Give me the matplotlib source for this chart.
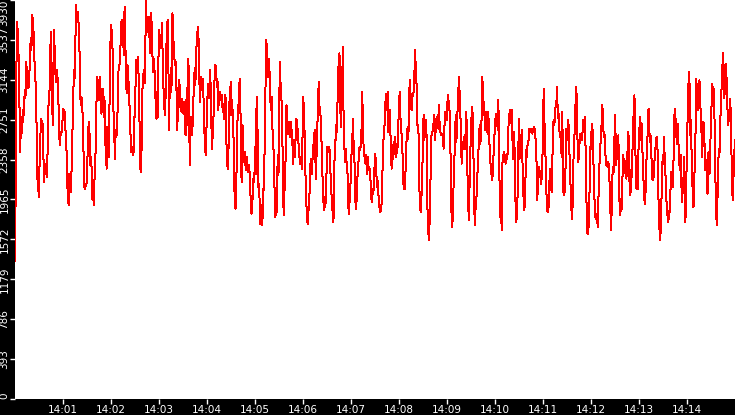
import matplotlib
matplotlib.use('Agg')
import matplotlib.pyplot as plt
import numpy as np

# readings, one list per 2.5 minute stretch
seg1 = [1360, 2153, 3321, 3716, 3519, 3338, 2877, 2433, 2779, 2614, 2713, 2844, 2795, 3042, 2960, 3321, 3223, 3124, 3058, 3173,
        3305, 3552, 3437, 3782, 3733, 3601, 3354, 3173, 3075, 2663, 2170, 2104, 1989, 2334, 2581, 2762, 2729, 2713, 2417, 2137,
        2269, 2252, 2318, 2186, 2532, 2910, 2943, 3288, 3617, 3173, 2844, 2696, 3634, 3486, 3239, 3124, 3239, 3173, 3025, 2680,
        2499, 2630, 2597, 2680, 2762, 2861, 2746, 2828, 2581, 2482, 2137, 1989, 1907, 2219, 2055, 2038, 2285, 2614, 2960, 3239,
        3157, 3519, 3881, 3766, 3815, 3749, 3535, 3321, 2894, 2976, 2943, 2729, 2417, 2088, 2071, 2104, 2121, 2302, 2614, 2729,
        2614, 2302, 2384, 2236, 1956, 2055, 1907, 2285, 2417, 2795, 3173, 3025, 3140, 2943, 3173, 3009, 2811, 3009, 3058, 2779,
        2976, 2581, 2384, 2269, 2680, 2482, 2384, 3042, 3502, 3683, 3601, 3420, 2861, 2680, 2367, 2647, 2581, 2663, 2992, 3272,
        3289, 3338, 3601, 3733, 3617, 3552, 3387, 3864, 3552, 3108, 3009, 3288, 3190, 2976, 2844, 2597, 2433, 2482, 2400, 2433,
        2779]
seg2 = [2779, 3190, 3338, 3206, 3371, 3223, 2877, 2482, 2236, 2285, 2729, 3140, 3190, 3239, 3108, 3519, 3930, 3617, 3766, 3617,
        3766, 3535, 3404, 3798, 3700, 3420, 3223, 3354, 3256, 3075, 2877, 2762, 3025, 2779, 3453, 3634, 3486, 3585, 3453, 3700,
        3321, 3075, 2910, 2795, 2960, 3420, 3617, 3733, 3437, 2647, 3190, 2960, 3256, 3091, 3798, 3601, 3453, 3338, 3289, 3321,
        2992, 2647, 2976, 3108, 3140, 2877, 2877, 2828, 2960, 2861, 2811, 2927, 2663, 2597, 2943, 2696, 3239, 3354, 2811, 2302,
        2597, 2779, 2597, 2696, 2927, 3091, 3256, 3091, 3321, 3552, 3617, 3667, 3453, 3091, 2927, 3173, 3140, 3042, 3157, 2894,
        2647, 2482, 2400, 2663, 2844, 3108, 2960, 3009, 3239, 3091, 2746, 2466, 2597, 2729, 3025, 3206, 3289, 3239, 3075, 3124,
        2844, 2976, 3009, 3025, 2943, 2992, 2877, 2910, 2762, 2828, 2992, 2943, 2466, 2302, 2269, 2515, 2910, 2976, 3124, 2795,
        2943, 2779, 2581, 2137, 1923, 1874, 2071, 2548, 2795, 2861, 3042, 3157, 2877, 2236, 2137, 2696, 2417, 2334, 2433, 2318,
        2252, 2384, 2318, 2236, 2302, 2252, 2104, 1907, 1824, 1923, 2038, 2203, 2137]
seg3 = [2482, 2219, 2828, 2976, 2515, 2088, 2121, 1923, 1726, 1907, 1890, 1709, 2071, 2055, 2334, 2762, 3223, 3535, 3338, 3173,
        3354, 3321, 3173, 2927, 2844, 2976, 2680, 2482, 2433, 2121, 1792, 1824, 1808, 2137, 2400, 2203, 2762, 3321, 3124, 2976,
        2910, 2499, 1972, 1808, 2055, 2153, 2532, 2894, 2762, 2614, 2729, 2713, 2581, 2729, 2630, 2647, 2482, 2318, 2548, 2482,
        2384, 2762, 2746, 2581, 2663, 2499, 2417, 2318, 2351, 2384, 2269, 2614, 2976, 2828, 2614, 2334, 1940, 1890, 1742, 1726,
        1890, 1972, 2153, 2367, 2318, 2219, 2400, 2482, 2565, 2647, 2384, 2170, 2466, 2696, 2877, 3124, 2861, 2877, 2762, 2581,
        2384, 2104, 1956, 1857, 1989, 1890, 2088, 2318, 2482, 2433, 2482, 2466, 2417, 2104, 2038, 1857, 1972, 1742, 2055, 2548,
        2532, 2696, 2630, 2894, 3173, 3354, 3404, 2976, 2680, 3140, 3058, 3469, 2844, 2597, 2334, 2466, 2384, 2302, 2219, 1923,
        1824, 1940, 2088, 2170, 2417, 2499, 2762, 2532, 2417, 2219, 1907, 1874, 2055, 2203, 2285, 2433, 2482, 2450, 2515, 2680,
        3025, 2680, 2482, 2417, 2334, 2318, 2400, 2219, 2384, 2302, 2252, 2269, 2186, 2071, 1940, 1989, 2071, 2055, 2236]
seg4 = [2417, 2367, 2236, 2088, 2153, 2038, 1923, 1874, 1841, 1857, 1940, 2153, 2532, 2565, 2663, 2779, 2976, 3009, 2844, 3025,
        2630, 2795, 2844, 2663, 2384, 2269, 2334, 2433, 2532, 2417, 2581, 2466, 2384, 2515, 2482, 2713, 2877, 3025, 2779, 2696,
        2581, 2482, 2236, 2071, 2219, 2071, 2302, 2515, 2614, 2680, 2565, 2861, 3140, 3058, 2861, 2844, 2976, 3009, 3025, 3173,
        3437, 3289, 3206, 2828, 2647, 2696, 2367, 1940, 1857, 1841, 2055, 2219, 2663, 2795, 2548, 2663, 2746, 2729, 2219, 1742,
        1643, 1561, 1775, 2055, 2482, 2630, 2614, 2713, 2680, 2795, 2548, 2663, 2762, 2746, 2795, 2663, 2894, 2680, 2630, 2614,
        2597, 2614, 2548, 2466, 2663, 2828, 2746, 2828, 2746, 2992, 2943, 2927, 2811, 2482, 2236, 1709, 1693, 1923, 2170, 2351,
        2548, 2795, 2532, 2647, 2894, 3025, 3173, 2992, 2828, 2581, 2318, 2466, 2532, 2466, 2581, 2466, 2647, 2828, 2548, 2088,
        1874, 1759, 2186, 2417, 2696, 2795, 2877, 2680, 2236, 1857, 1709, 1923, 1972, 2055, 2285, 2433, 2565, 2696, 2515, 2597,
        2795, 3173, 3009, 2910, 2844, 2647, 2828, 2713, 2663, 2614, 2828, 2581, 2482, 2334, 2269, 2186, 2153, 2285, 2433, 2597]
seg5 = [2614, 2811, 2729, 2779, 2647, 2943, 2548, 2022, 1792, 1923, 1660, 2302, 2400, 2384, 2433, 2351, 2318, 2351, 2400, 2417,
        2647, 2811, 2713, 2844, 2795, 2844, 2614, 2367, 2630, 2548, 2269, 1841, 1742, 1841, 2038, 2466, 2762, 2367, 2565, 2466,
        2647, 2400, 2104, 1956, 1857, 1956, 2252, 2450, 2384, 2532, 2515, 2647, 2663, 2647, 2630, 2663, 2614, 2663, 2647, 2680,
        2630, 2548, 2466, 1956, 2038, 2186, 2285, 2236, 2203, 2121, 2170, 2334, 2630, 3058, 2795, 2515, 2351, 2071, 1857, 1841,
        1857, 1989, 2203, 2269, 2088, 2038, 2318, 2680, 2746, 2696, 2795, 2894, 2894, 3075, 2844, 2762, 2811, 2581, 2614, 2515,
        2384, 2828, 2137, 2005, 2088, 2038, 2351, 2663, 2548, 2680, 2746, 2597, 2351, 2153, 1972, 1824, 1775, 2203, 2417, 2515,
        2877, 2910, 3075, 2828, 2466, 2334, 2417, 2548, 2614, 2565, 2548, 2581, 2746, 2713, 2647, 2779, 2400, 2005, 1660, 1627,
        1643, 1808, 2104, 2482, 2466, 2696, 2713, 2482, 2252, 2005, 1792, 1808, 1775, 1824, 1693, 1956, 2121, 2384, 2482, 2630,
        2713, 2894, 2779, 2581, 2630, 2548, 2351, 2302, 2318, 2285, 2334, 2269, 2104, 1874, 1660, 1857, 2186, 2285, 2236, 2515]
seg6 = [2795, 2532, 2302, 2515, 2384, 2597, 2219, 1841, 1808, 1972, 1874, 2137, 2400, 2285, 2367, 2269, 2186, 2170, 2285, 2515,
        2630, 2384, 2005, 2252, 2038, 2269, 2417, 2779, 2696, 2992, 2663, 2203, 2071, 2186, 2071, 2450, 2548, 2779, 2729, 2548,
        2713, 2433, 2269, 2038, 1956, 1923, 2137, 2351, 2581, 2597, 2861, 2680, 2532, 2597, 2433, 2302, 2153, 2236, 2186, 2367,
        2433, 2532, 2581, 2565, 2302, 1923, 1726, 1561, 1643, 1907, 2088, 2384, 2318, 2581, 2400, 2269, 2055, 1923, 1841, 1742,
        1857, 1775, 1989, 2088, 2236, 2203, 2088, 2252, 2614, 2861, 2663, 2762, 2515, 2597, 2713, 2433, 2318, 2252, 2400, 2121,
        1940, 2055, 2137, 2384, 1940, 1742, 2022, 2351, 2696, 2910, 3223, 3190, 2597, 2746, 2482, 2302, 1956, 1890, 1956, 2417,
        2565, 3157, 2943, 3108, 2844, 3042, 3140, 2943, 2779, 2630, 2384, 2581, 2729, 2581, 2450, 2252, 2351, 2236, 2022, 2417,
        2433, 2219, 2433, 2713, 2894, 3108, 3042, 3058, 2960, 2482, 2104, 1808, 1709, 2022, 2318, 2466, 2433, 2729, 2894, 3075,
        3206, 3404, 3272, 2960, 3075, 3305, 3190, 3108, 2795, 2696, 2811, 2746, 2960, 2647, 2351, 2022, 1956, 2269, 2433, 2548]

segments = [seg1, seg2, seg3, seg4, seg5, seg6]
seg_len = 150  # seconds covered by each list, starting 14:00:00

y_ticks = [0, 393, 786, 1179, 1572, 1965, 2358, 2751, 3144, 3537, 3930]
x_ticks = [60 * m for m in range(1, 15)]
x_labels = ['14:%02d' % m for m in range(1, 15)]

times = []
values = []
for i, seg in enumerate(segments):
    last = i == len(segments) - 1
    t = np.linspace(i * seg_len, (i + 1) * seg_len, len(seg), endpoint=last)
    times.extend(t)
    values.extend(seg)

fig = plt.figure(figsize=(7.35, 4.15), dpi=100, facecolor='black')
ax = fig.add_axes([15 / 735, 16 / 415, 720 / 735, 399 / 415])
ax.set_facecolor('white')

ax.plot(times, values, color='red', linewidth=0.72, antialiased=False)

ax.set_xlim(0, 900)
ax.set_ylim(0, 3930)
ax.set_xticks(x_ticks)
ax.set_xticklabels(x_labels)
ax.set_yticks(y_ticks)
ax.set_yticklabels([str(v) for v in y_ticks], rotation=90, va='center')
ax.get_yticklabels()[-1].set_va('top')
ax.get_yticklabels()[0].set_va('bottom')

ax.tick_params(axis='both', colors='white', labelsize=7.5, length=3.5, width=1, direction='out')
ax.tick_params(axis='x', pad=0.5)
ax.tick_params(axis='y', pad=0.5)
for s in ax.spines.values():
    s.set_visible(False)

fig.savefig('out.png', dpi=100, facecolor='black')
